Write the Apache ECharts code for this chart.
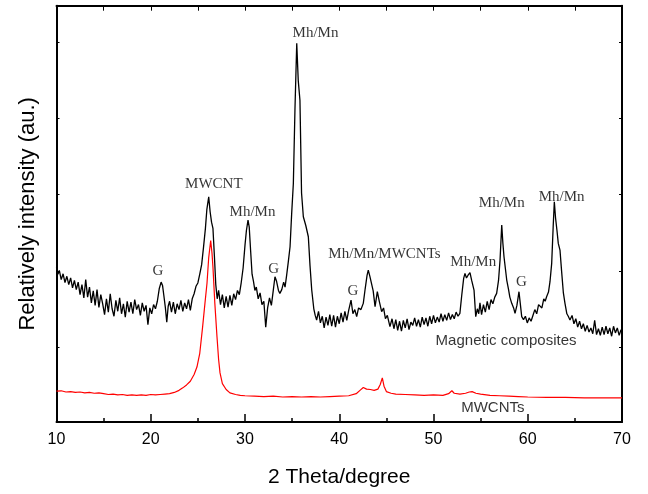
<!DOCTYPE html>
<html><head><meta charset="utf-8">
<script src="https://cdn.jsdelivr.net/npm/echarts@6/dist/echarts.min.js"></script>
<style>html,body{margin:0;padding:0;background:#fff}#c{width:648px;height:494px}</style>
</head><body><div id="c"></div>
<script>
// x range and ticks (2 Theta, degree)
const xMin = 10, xMax = 70, xStep = 10;
// y is relative intensity in arbitrary units (0..100 spans the frame)
const yMin = 0, yMax = 100;
const yTickValues = [18, 36.3, 54.6, 72.9, 91.2];

// Magnetic composites (black) [2theta, intensity]
const compositeCurve = [
[10.00,37.2],[10.15,35.5],[10.30,36.4],[10.50,34.2],[10.70,35.6],[10.90,33.5],[11.10,35.0],[11.30,33.0],[11.50,34.6],[11.70,32.2],
[11.90,34.0],[12.10,31.8],[12.30,33.6],[12.50,30.6],[12.70,33.0],[12.90,29.8],[13.10,34.2],[13.30,30.0],[13.50,32.4],[13.70,28.6],
[13.90,31.5],[14.10,28.0],[14.30,31.8],[14.50,27.5],[14.70,30.6],[14.90,28.4],[15.10,25.8],[15.30,29.6],[15.50,26.4],[15.70,30.8],
[15.90,27.2],[16.10,25.4],[16.30,29.2],[16.50,26.6],[16.70,29.8],[16.90,26.0],[17.10,28.4],[17.30,25.2],[17.50,29.0],[17.70,26.4],
[17.90,28.8],[18.10,26.0],[18.30,29.4],[18.50,27.0],[18.70,28.2],[18.90,25.6],[19.10,28.6],[19.30,26.6],[19.50,28.0],[19.70,23.4],
[19.90,27.4],[20.10,26.0],[20.30,28.2],[20.50,27.2],[20.70,29.0],[20.90,32.0],[21.10,33.6],[21.25,32.8],[21.40,30.2],[21.55,27.5],
[21.70,24.0],[21.85,27.8],[22.00,29.0],[22.20,26.4],[22.40,28.8],[22.60,26.0],[22.80,28.4],[23.00,27.0],[23.20,29.2],[23.40,26.6],
[23.60,28.6],[23.80,27.2],[24.00,29.4],[24.20,26.8],[24.40,29.6],[24.60,30.8],[24.80,32.6],[25.00,33.4],[25.20,35.5],[25.40,37.8],
[25.60,42.0],[25.80,46.5],[25.95,51.0],[26.15,54.1],[26.30,50.5],[26.45,48.0],[26.60,46.5],[26.75,40.0],[26.90,33.0],[27.05,29.6],
[27.20,31.6],[27.40,28.2],[27.60,30.6],[27.80,27.4],[28.00,30.2],[28.20,27.6],[28.40,30.4],[28.60,28.0],[28.80,30.8],[29.00,29.4],
[29.20,31.6],[29.40,30.6],[29.60,33.5],[29.80,37.0],[30.00,42.5],[30.15,46.0],[30.32,48.5],[30.45,46.8],[30.60,41.0],[30.75,35.5],
[30.90,33.8],[31.05,31.6],[31.20,32.4],[31.40,29.6],[31.60,31.0],[31.80,28.2],[32.00,29.0],[32.20,22.8],[32.40,27.4],[32.60,29.8],
[32.80,28.0],[33.00,31.6],[33.18,34.9],[33.35,33.8],[33.55,31.6],[33.70,30.9],[33.90,31.8],[34.10,33.6],[34.25,32.4],[34.42,35.3],
[34.60,38.6],[34.78,42.1],[34.95,50.0],[35.13,57.3],[35.30,75.0],[35.49,91.0],[35.65,82.0],[35.83,77.3],[36.00,55.0],[36.19,49.3],
[36.45,47.2],[36.72,44.5],[36.90,37.5],[37.08,31.7],[37.30,27.2],[37.45,25.6],[37.60,24.5],[37.80,26.6],[38.00,23.8],[38.20,25.4],
[38.40,22.6],[38.60,25.2],[38.80,23.2],[39.00,25.8],[39.20,23.0],[39.40,25.6],[39.60,22.8],[39.80,25.4],[40.00,23.6],[40.20,26.2],
[40.40,24.0],[40.60,26.6],[40.80,24.4],[41.00,26.8],[41.25,29.3],[41.45,26.0],[41.65,27.0],[41.85,25.3],[42.05,27.4],[42.30,27.0],
[42.55,28.5],[42.75,32.0],[42.95,35.2],[43.08,36.5],[43.25,35.0],[43.44,34.9],[43.60,31.5],[43.80,27.7],[44.04,31.3],[44.25,29.0],
[44.50,26.5],[44.70,27.4],[44.90,24.8],[45.10,25.6],[45.38,22.9],[45.60,24.8],[45.80,22.4],[46.00,24.6],[46.20,22.0],[46.40,24.2],
[46.60,21.8],[46.80,24.4],[47.00,22.6],[47.20,24.8],[47.40,22.2],[47.60,24.0],[47.80,23.2],[48.00,25.0],[48.20,23.0],[48.40,24.6],
[48.60,22.8],[48.80,25.2],[49.00,23.4],[49.20,25.0],[49.40,23.0],[49.60,25.4],[49.80,23.6],[50.00,25.6],[50.20,23.8],[50.40,25.2],
[50.60,24.0],[50.80,26.0],[51.00,24.2],[51.20,25.8],[51.40,24.4],[51.60,26.2],[51.80,24.6],[52.00,25.8],[52.20,24.8],[52.40,26.4],
[52.60,25.4],[52.80,26.1],[53.00,30.5],[53.20,34.5],[53.34,35.7],[53.50,34.6],[53.65,35.2],[53.87,35.9],[54.05,34.0],[54.30,31.7],
[54.48,25.3],[54.65,27.2],[54.80,26.0],[54.93,28.6],[55.10,25.8],[55.30,28.2],[55.50,26.4],[55.70,29.0],[55.90,27.0],[56.10,29.4],
[56.30,28.4],[56.50,30.0],[56.70,30.9],[56.90,34.0],[57.06,38.9],[57.24,47.3],[57.36,43.0],[57.48,39.7],[57.62,37.0],[57.77,34.1],
[57.95,32.0],[58.10,30.0],[58.30,28.5],[58.50,27.4],[58.65,26.1],[58.85,28.0],[59.07,31.3],[59.20,28.6],[59.36,25.3],[59.55,24.6],
[59.75,25.4],[59.95,23.8],[60.15,25.0],[60.35,24.2],[60.55,25.6],[60.75,27.0],[60.95,26.0],[61.15,28.2],[61.30,28.5],[61.50,27.4],
[61.70,29.6],[61.85,29.0],[62.00,30.1],[62.20,31.2],[62.36,33.7],[62.54,38.1],[62.70,47.0],[62.82,52.9],[62.95,49.0],[63.10,46.0],
[63.24,42.9],[63.42,41.3],[63.60,36.0],[63.78,31.0],[63.95,28.5],[64.15,26.0],[64.30,25.4],[64.48,24.5],[64.70,25.6],[64.90,23.6],
[65.10,24.8],[65.30,22.8],[65.50,24.2],[65.70,22.4],[65.90,23.6],[66.10,21.8],[66.30,23.2],[66.50,21.6],[66.70,22.6],[66.90,21.2],
[67.10,24.4],[67.30,21.0],[67.50,22.4],[67.70,20.8],[67.90,22.8],[68.10,21.0],[68.30,23.0],[68.50,21.2],[68.70,22.6],[68.90,20.6],
[69.10,23.0],[69.30,21.4],[69.50,22.6],[69.70,20.8],[69.90,22.2],[70.00,21.4]
];

// MWCNTs (red) [2theta, intensity]
const mwcntCurve = [
[10.0,7.4],[10.5,7.5],[11.0,7.2],[11.5,7.3],[12.0,7.1],[12.5,7.2],[13.0,7.0],[13.5,7.1],[14.0,6.9],[14.5,7.0],
[15.0,6.8],[15.5,6.6],[16.0,6.7],[16.5,6.5],[17.0,6.6],[17.5,6.4],[18.0,6.5],[18.5,6.4],[19.0,6.5],[19.5,6.4],
[20.0,6.6],[20.5,6.5],[21.0,6.6],[21.5,6.7],[22.0,6.8],[22.5,7.1],[23.0,7.6],[23.4,8.2],[23.8,8.9],[24.2,9.8],
[24.6,11.4],[24.9,13.2],[25.2,16.5],[25.5,22.8],[25.75,28.5],[25.97,33.4],[26.15,39.5],[26.36,43.6],[26.5,40.5],[26.6,37.2],
[26.8,28.5],[27.03,20.4],[27.2,15.0],[27.35,11.8],[27.6,9.2],[28.0,7.8],[28.4,7.0],[29.0,6.6],[29.5,6.4],[30.0,6.3],
[31.0,6.2],[32.0,6.1],[33.0,6.2],[34.0,6.0],[35.0,6.1],[36.0,6.0],[37.0,6.1],[38.0,6.0],[39.0,6.1],[40.0,6.2],
[41.0,6.3],[41.8,6.8],[42.2,7.6],[42.55,8.3],[42.9,7.9],[43.3,7.8],[43.7,7.6],[44.1,7.9],[44.35,9.0],[44.57,10.6],
[44.75,8.6],[45.0,7.3],[45.5,6.9],[46.0,6.7],[47.0,6.6],[48.0,6.5],[49.0,6.4],[50.0,6.5],[51.0,6.4],[51.6,6.8],
[51.95,7.5],[52.2,6.9],[52.8,6.7],[53.4,6.9],[53.8,7.2],[54.1,7.3],[54.5,6.9],[55.0,6.7],[56.0,6.4],[57.0,6.3],
[58.0,6.2],[59.0,6.1],[60.0,6.0],[62.0,5.9],[64.0,5.9],[66.0,5.8],[68.0,5.8],[70.0,5.8]
];

// Peak annotations
const peakLabels = ['G','MWCNT','Mh/Mn','G','Mh/Mn','G','Mh/Mn/MWCNTs','Mh/Mn','Mh/Mn','G','Mh/Mn'];
const peakLabelX = [20.77, 26.69, 30.8, 33.05, 37.48, 41.46, 44.8, 54.22, 57.24, 59.32, 63.6];
const peakLabelY = [36.3, 57.2, 50.4, 36.75, 93.4, 31.5, 40.4, 38.3, 52.5, 33.5, 54.1];

// Curve names
const curveLabels = ['Magnetic composites', 'MWCNTs'];
const curveLabelX = [57.7, 56.3];
const curveLabelY = [19.5, 3.4];

const SANS = 'Liberation Sans, Arial, sans-serif';
const SERIF = 'Liberation Serif, Times New Roman, serif';

const peakData = peakLabels.map((t, i) => ({ name: t, value: [peakLabelX[i], peakLabelY[i]] }));
const curveData = curveLabels.map((t, i) => ({ name: t, value: [curveLabelX[i], curveLabelY[i]] }));

const chart = echarts.init(document.getElementById('c'), null, { renderer: 'canvas' });
chart.setOption({
  animation: false,
  backgroundColor: '#fff',
  grid: { left: 56.5, right: 26, top: 5.7, bottom: 72, outerBoundsMode: 'none', containLabel: false },
  xAxis: [
    {
      type: 'value', min: xMin, max: xMax, interval: xStep, position: 'bottom',
      name: '2 Theta/degree', nameLocation: 'middle', nameGap: 45,
      nameTextStyle: { fontFamily: SANS, fontSize: 21, color: '#000' },
      axisLine: { show: true, onZero: false, lineStyle: { color: '#000', width: 2 } },
      axisTick: { show: true, inside: true, length: 8, lineStyle: { color: '#000', width: 1.5 } },
      minorTick: { show: true, splitNumber: 2, length: 4, lineStyle: { color: '#000', width: 1.5 } },
      axisLabel: { fontFamily: SANS, fontSize: 16, color: '#000', margin: 10 },
      splitLine: { show: false }
    },
    {
      type: 'value', min: xMin, max: xMax, interval: 5, position: 'top',
      axisLine: { show: true, onZero: false, lineStyle: { color: '#000', width: 2 } },
      axisTick: { show: true, inside: true, length: 5, lineStyle: { color: '#000', width: 1 } },
      axisLabel: { show: false },
      splitLine: { show: false }
    }
  ],
  yAxis: [
    {
      type: 'value', min: yMin, max: yMax, position: 'left',
      name: 'Relatively intensity (au.)', nameLocation: 'middle', nameGap: 18,
      nameTextStyle: { fontFamily: SANS, fontSize: 22, color: '#000' },
      axisLine: { show: true, onZero: false, lineStyle: { color: '#000', width: 2 } },
      axisTick: { show: true, inside: true, length: 3, customValues: yTickValues, lineStyle: { color: '#000', width: 1 } },
      axisLabel: { show: false },
      splitLine: { show: false }
    },
    {
      type: 'value', min: yMin, max: yMax, position: 'right',
      axisLine: { show: true, onZero: false, lineStyle: { color: '#000', width: 2 } },
      axisTick: { show: true, inside: true, length: 3, customValues: yTickValues, lineStyle: { color: '#000', width: 1 } },
      axisLabel: { show: false },
      splitLine: { show: false }
    }
  ],
  series: [
    {
      name: 'MWCNTs', type: 'line', data: mwcntCurve, showSymbol: false, symbol: 'none',
      lineStyle: { color: '#ff0000', width: 1.2 }, z: 2
    },
    {
      name: 'Magnetic composites', type: 'line', data: compositeCurve, showSymbol: false, symbol: 'none',
      lineStyle: { color: '#000', width: 1.3 }, z: 3
    },
    {
      type: 'scatter', data: peakData, symbolSize: 1, itemStyle: { color: 'rgba(0,0,0,0)' },
      label: { show: true, position: 'inside', formatter: p => p.name, fontFamily: SERIF, fontSize: 15, color: '#000' },
      z: 5, silent: true
    },
    {
      type: 'scatter', data: curveData, symbolSize: 1, itemStyle: { color: 'rgba(0,0,0,0)' },
      label: { show: true, position: 'inside', formatter: p => p.name, fontFamily: SANS, fontSize: 15, color: '#000' },
      z: 5, silent: true
    }
  ]
});
</script>
</body></html>
